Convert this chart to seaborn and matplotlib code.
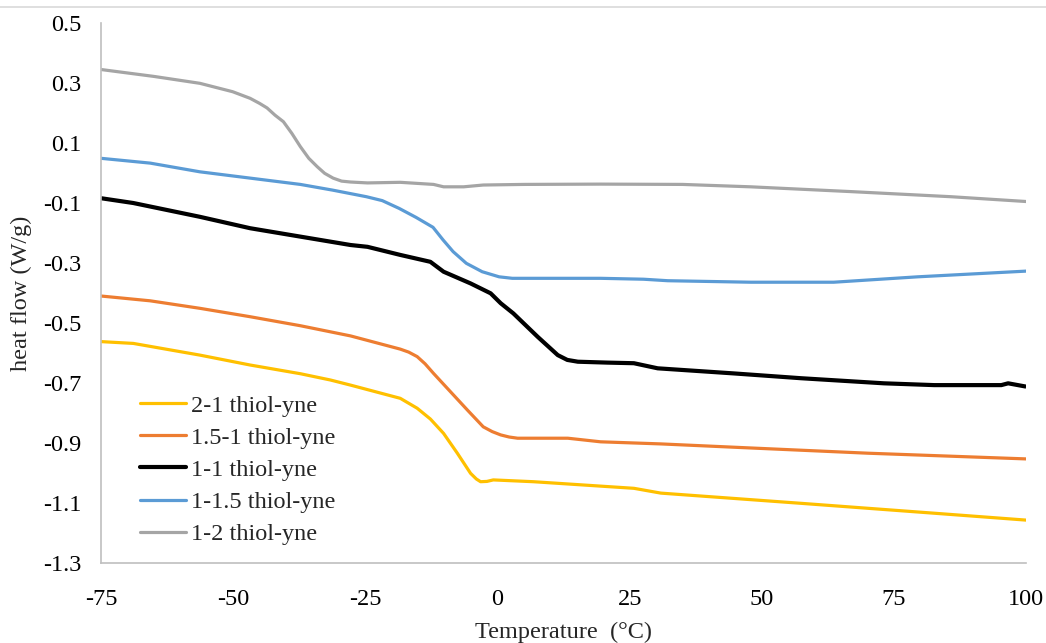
import matplotlib
matplotlib.use("Agg")
import matplotlib.pyplot as plt
from matplotlib.lines import Line2D
import numpy as np
import pandas as pd
import seaborn as sns

# DSC heat-flow traces for the thiol-yne series
labels = ["2-1 thiol-yne", "1.5-1 thiol-yne", "1-1 thiol-yne", "1-1.5 thiol-yne", "1-2 thiol-yne"]
colors = ["#FFC000", "#ED7D31", "#000000", "#5B9BD5", "#A5A5A5"]
widths = [2.3, 2.3, 3.0, 2.3, 2.3]

t_21 = [-75, -68.9, -56.3, -46.8, -37.3, -31.6, -27.8, -18.4, -15.2, -12.7, -10.2, -7.6, -5.1, -4.0,
        -3.2, -2.0, -0.8, 6.8, 16.3, 25.8, 30.9, 57.4, 82.6, 100]
hf_21 = [-0.562, -0.568, -0.607, -0.640, -0.669, -0.690, -0.707, -0.751, -0.784, -0.820, -0.868,
         -0.934, -1.001, -1.020, -1.029, -1.028, -1.023, -1.029, -1.040, -1.051, -1.067, -1.101,
         -1.134, -1.157]

t_151 = [-75, -65.7, -56.3, -46.8, -37.3, -27.8, -18.4, -16.8, -15.2, -13.7, -12.1, -8.9, -5.7,
         -2.7, -1.0, 0.6, 2.2, 3.8, 13.3, 19.5, 30.9, 44.7, 70.1, 100]
hf_151 = [-0.410, -0.426, -0.451, -0.479, -0.509, -0.543, -0.587, -0.597, -0.612, -0.636, -0.668,
          -0.729, -0.790, -0.846, -0.862, -0.873, -0.880, -0.884, -0.884, -0.896, -0.903, -0.914,
          -0.934, -0.953]

t_11 = [-75, -68.9, -56.3, -46.8, -37.3, -27.8, -24.6, -18.4, -12.7, -10.2, -5.1, -1.3, 0.6, 3.0,
        7.6, 11.4, 13.2, 15.2, 20.8, 25.8, 30.3, 44.7, 57.4, 73.1, 82.6, 95.3, 96.6, 100]
hf_11 = [-0.084, -0.100, -0.146, -0.184, -0.212, -0.240, -0.246, -0.273, -0.296, -0.329, -0.368,
         -0.401, -0.434, -0.468, -0.546, -0.607, -0.623, -0.629, -0.632, -0.634, -0.651, -0.668,
         -0.684, -0.701, -0.707, -0.707, -0.701, -0.712]

t_115 = [-75, -65.7, -56.3, -46.8, -37.3, -31.2, -24.8, -21.8, -18.6, -15.4, -12.2, -10.3, -8.4,
         -5.9, -2.9, 0.3, 2.8, 19.5, 27.6, 32.2, 47.9, 63.6, 79.5, 100]
hf_115 = [0.049, 0.033, 0.004, -0.017, -0.038, -0.057, -0.079, -0.092, -0.118, -0.148, -0.181,
          -0.223, -0.262, -0.301, -0.329, -0.346, -0.351, -0.351, -0.354, -0.359, -0.364, -0.364,
          -0.346, -0.327]

t_12 = [-75, -65, -56.3, -50.1, -46.8, -45.0, -43.6, -42.1, -40.5, -38.9, -37.3, -35.7, -34.1,
        -32.7, -31.1, -29.5, -27.8, -24.6, -18.4, -12.1, -10.2, -6.4, -2.7, 5, 19.5, 35, 47.9,
        66.9, 85.8, 100]
hf_12 = [0.345, 0.322, 0.299, 0.271, 0.249, 0.232, 0.217, 0.193, 0.171, 0.132, 0.088, 0.049,
         0.021, -0.001, -0.017, -0.027, -0.030, -0.033, -0.031, -0.038, -0.046, -0.046, -0.040,
         -0.038, -0.037, -0.038, -0.046, -0.062, -0.079, -0.095]

series_t = [t_21, t_151, t_11, t_115, t_12]
series_hf = [hf_21, hf_151, hf_11, hf_115, hf_12]

x_ticks = [-75, -50, -25, 0, 25, 50, 75, 100]
y_ticks = [-1.3, -1.1, -0.9, -0.7, -0.5, -0.3, -0.1, 0.1, 0.3, 0.5]

sns.set_theme(style="white")
plt.rcParams["font.family"] = ["Liberation Serif", "DejaVu Serif"]
plt.rcParams["axes.unicode_minus"] = False

fig = plt.figure(figsize=(10.46, 6.43), dpi=100)
ax = fig.add_axes([0.0966, 0.1244, 0.8844, 0.8398])

frames = [pd.DataFrame({"T": t, "hf": h, "sample": lab})
          for t, h, lab in zip(series_t, series_hf, labels)]
df = pd.concat(frames, ignore_index=True)

for lab, col, lw in zip(labels, colors, widths):
    sns.lineplot(data=df[df["sample"] == lab], x="T", y="hf", color=col, linewidth=lw,
                 ax=ax, legend=False, sort=True, estimator=None,
                 solid_joinstyle="round", solid_capstyle="butt")

ax.set_xlim(-75, 100)
ax.set_ylim(-1.3, 0.5)
ax.set_xticks(x_ticks)
ax.set_xticklabels([f"{v:d}" for v in x_ticks])
ax.set_yticks(y_ticks)
ax.set_yticklabels([f"{v:.1f}" for v in y_ticks])

grey = "#BFBFBF"
for side in ["top", "right"]:
    ax.spines[side].set_visible(False)
for side in ["left", "bottom"]:
    ax.spines[side].set_color(grey)
    ax.spines[side].set_linewidth(1.2)
ax.tick_params(axis="both", direction="inout", length=10, width=1.2, color=grey,
               labelsize=17.5, labelcolor="black")
ax.tick_params(axis="y", pad=9)
ax.tick_params(axis="x", pad=14)

ax.set_xlabel("Temperature  (°C)", fontsize=17.5, labelpad=8)
ax.set_ylabel("heat flow (W/g)", fontsize=17.5, labelpad=8)

handles = [Line2D([0], [0], color=c, lw=lw) for c, lw in zip(colors, widths)]
ax.legend(handles, labels, loc="upper left", bbox_to_anchor=(0.042, 0.312), frameon=False,
          fontsize=17.5, handlelength=1.9, handletextpad=0.2, labelspacing=0.42,
          borderpad=0, borderaxespad=0)

fig.add_artist(Line2D([0, 1], [0.989, 0.989], transform=fig.transFigure,
                      color="#D9D9D9", linewidth=1.2))

fig.savefig("out.png", dpi=100, facecolor="white")
